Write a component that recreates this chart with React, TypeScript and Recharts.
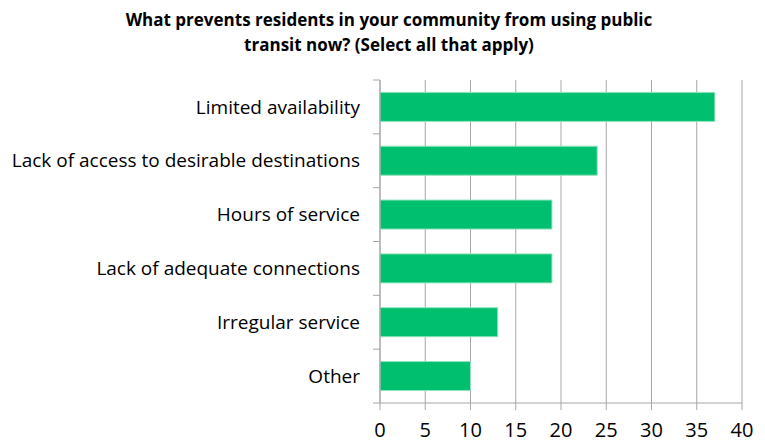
import { BarChart, Bar, XAxis, YAxis, CartesianGrid } from 'recharts';

const categories = [
  'Limited availability',
  'Lack of access to desirable destinations',
  'Hours of service',
  'Lack of adequate connections',
  'Irregular service',
  'Other',
];
const counts = [37, 24, 19, 19, 13, 10];
const xTicks = [0, 5, 10, 15, 20, 25, 30, 35, 40];

const W = 765;
const H = 442;
const X_AXIS_H = 39;
const margin = { top: 80, right: 23, bottom: 0, left: 0 };
const plotH = H - margin.top - margin.bottom - X_AXIS_H;
const band = plotH / categories.length;
const FONT = '"Open Sans", sans-serif';
const AXIS = '#a6a6a6';

const data = categories.map((name, i) => ({ name, value: counts[i] }));

function CategoryTick(props: any) {
  const { x, y, payload, index } = props;
  const ax = x + 20;
  return (
    <g>
      <text x={x} y={y} dy="0.35em" textAnchor="end" fontSize={19} fill="#000" fontFamily={FONT}>
        {payload.value}
      </text>
      <line x1={ax - 7} x2={ax} y1={y - band / 2} y2={y - band / 2} stroke={AXIS} />
      {index === categories.length - 1 && (
        <line x1={ax - 7} x2={ax} y1={y + band / 2} y2={y + band / 2} stroke={AXIS} />
      )}
    </g>
  );
}

export default function App() {
  return (
    <div style={{ position: 'absolute', left: 0, top: 0, width: W, height: H, background: '#fff' }}>
      <div
        style={{
          position: 'absolute',
          left: 0,
          top: 7,
          width: 778,
          textAlign: 'center',
          fontFamily: FONT,
          fontWeight: 700,
          fontSize: 17,
          lineHeight: '25px',
          color: '#000',
        }}
      >
        What prevents residents in your community from using public
        <br />
        transit now? (Select all that apply)
      </div>
      <BarChart
        width={W}
        height={H}
        data={data}
        layout="vertical"
        margin={margin}
        barCategoryGap="23%"
      >
        <CartesianGrid horizontal={false} vertical={true} stroke={AXIS} />
        <XAxis
          type="number"
          domain={[0, 40]}
          ticks={xTicks}
          interval={0}
          height={X_AXIS_H}
          axisLine={{ stroke: AXIS }}
          tickLine={{ stroke: AXIS }}
          tickSize={7}
          tickMargin={13}
          tick={{ fontSize: 20, fill: '#000', fontFamily: FONT }}
        />
        <YAxis
          type="category"
          dataKey="name"
          width={380}
          interval={0}
          axisLine={{ stroke: AXIS }}
          tickLine={false}
          tickSize={7}
          tickMargin={13}
          tick={<CategoryTick />}
        />
        <Bar dataKey="value" fill="#00BF6F" stroke="#8fe3bb" strokeWidth={1} isAnimationActive={false} />
      </BarChart>
    </div>
  );
}
